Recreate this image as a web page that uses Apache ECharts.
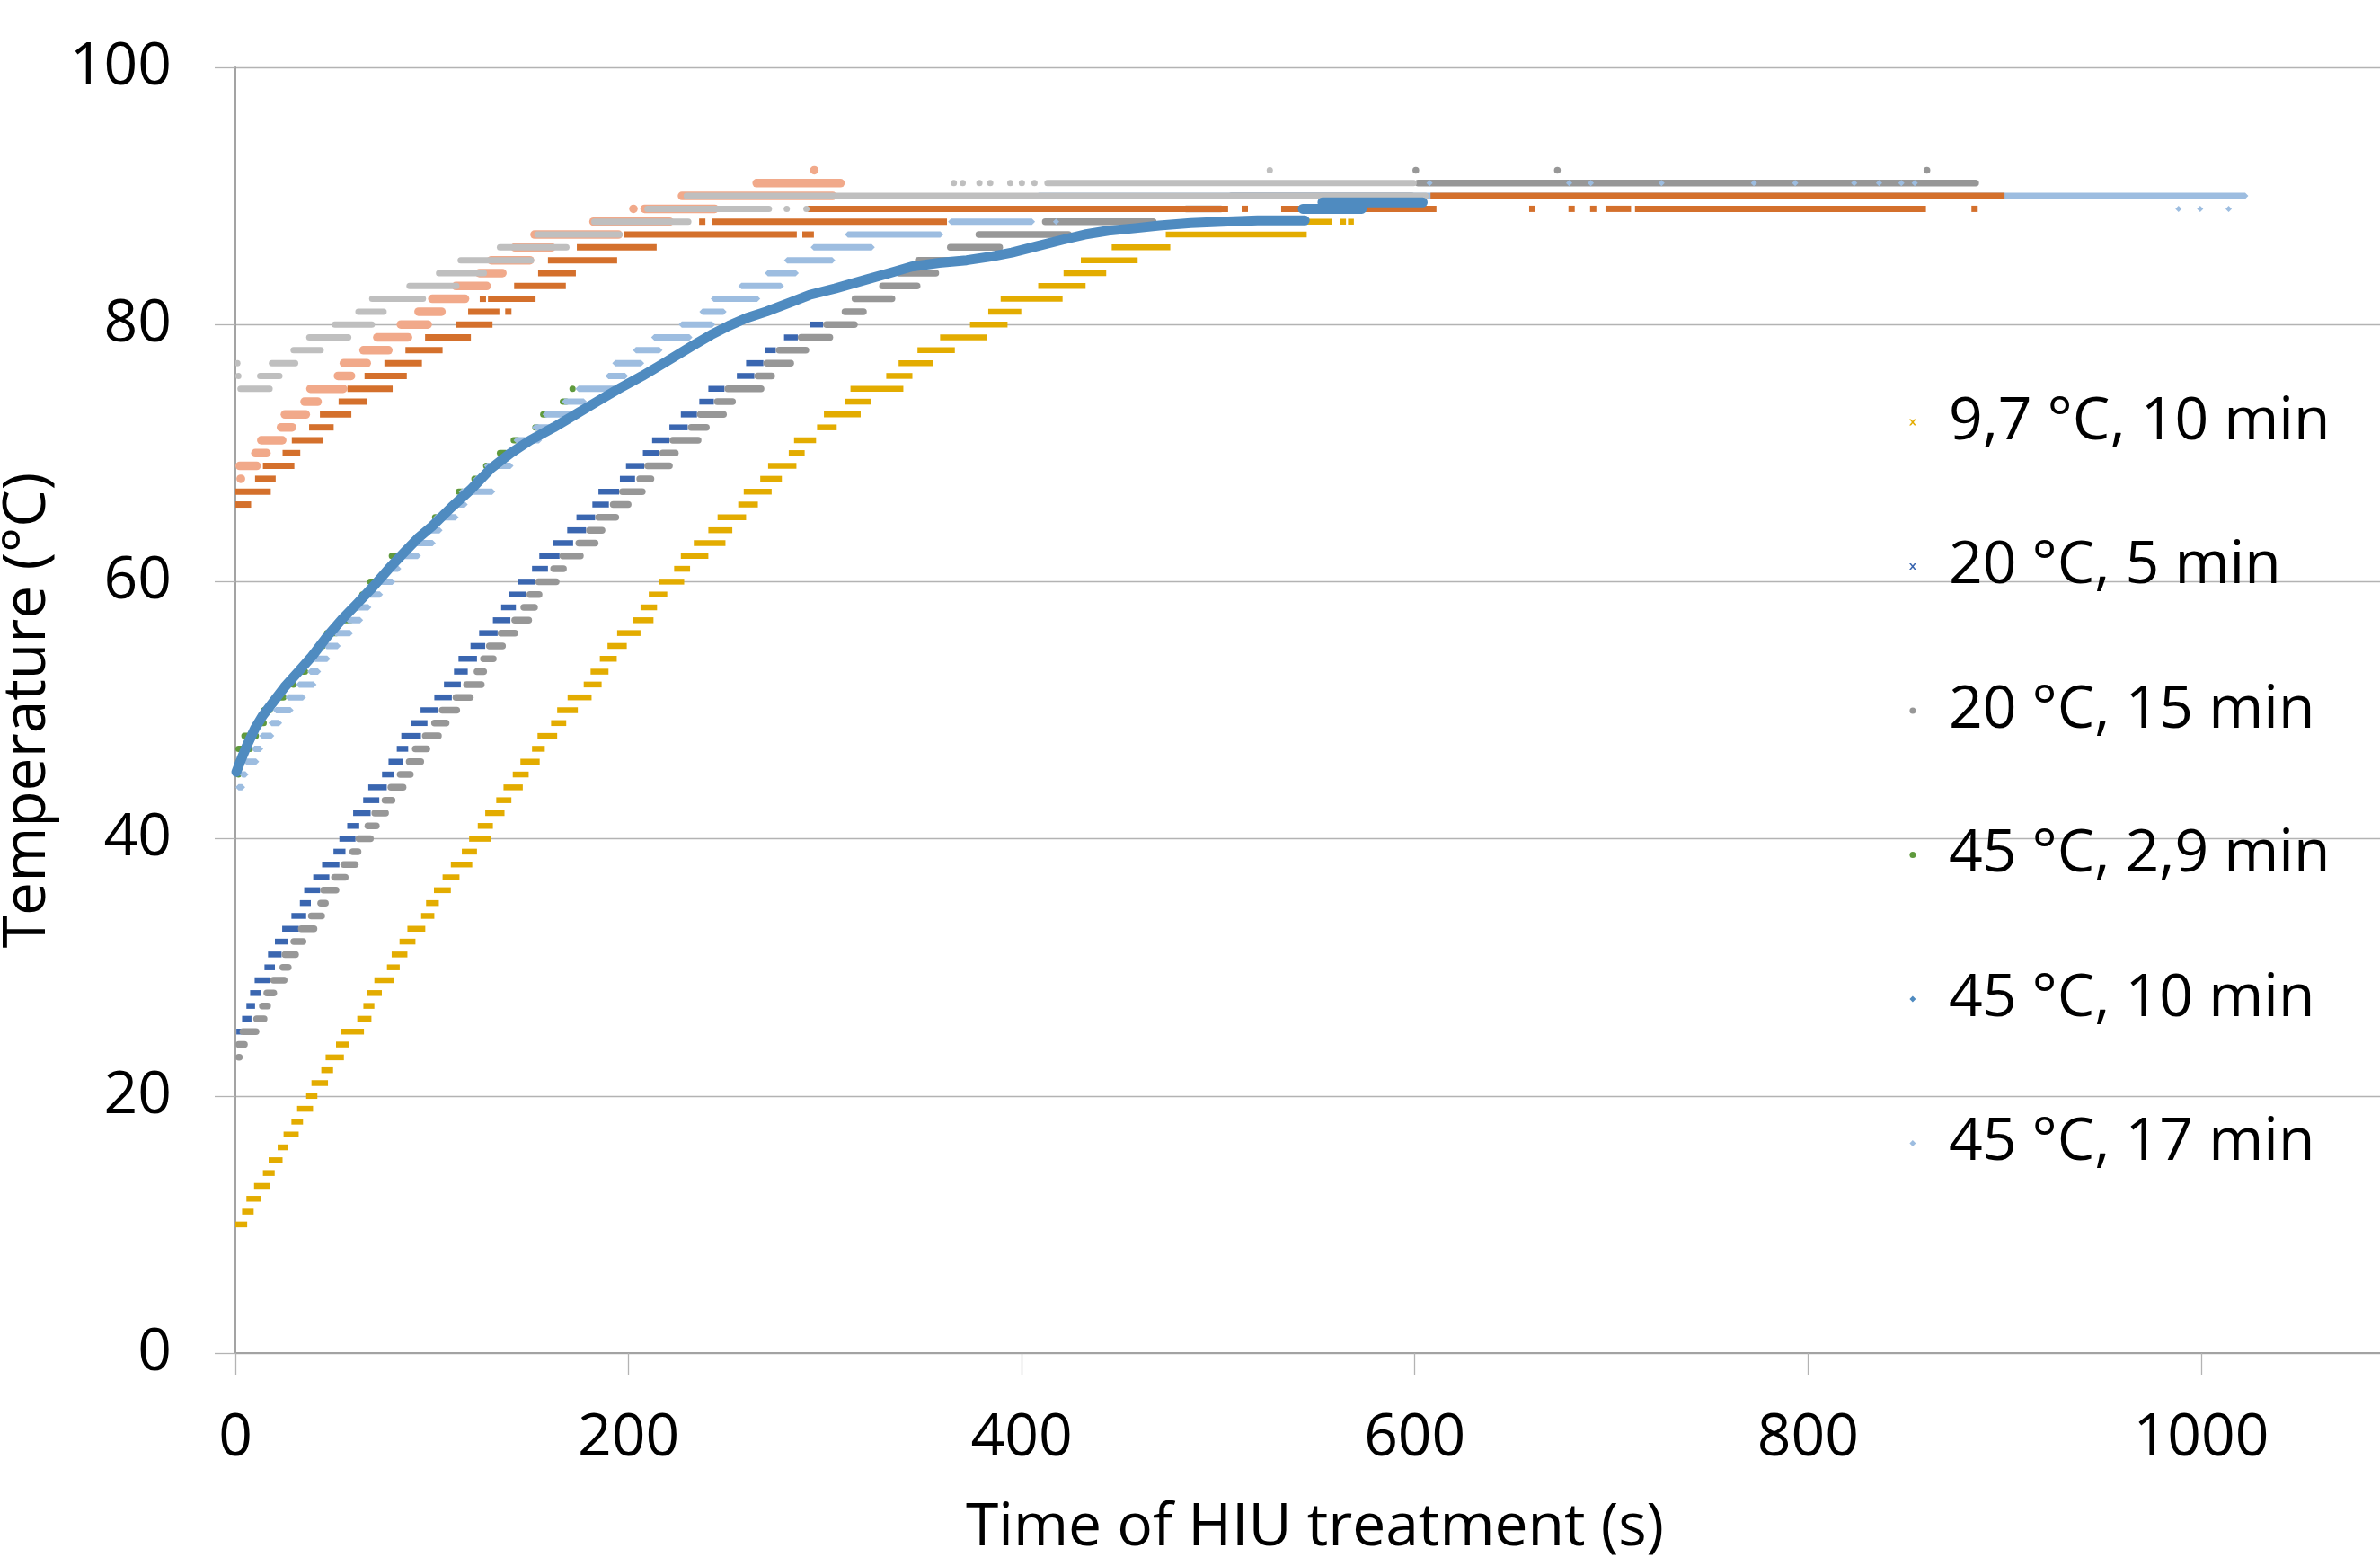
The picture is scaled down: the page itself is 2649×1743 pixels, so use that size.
<!DOCTYPE html>
<html><head><meta charset="utf-8">
<script src="https://cdn.jsdelivr.net/npm/echarts@6/dist/echarts.min.js"></script>
<style>html,body{margin:0;padding:0;background:#fff}#c{width:2649px;height:1743px}</style>
</head><body><div id="c"></div>
<script>
// ---------- axis ticks ----------
const xTicks = [0, 200, 400, 600, 800, 1000];
const yTicks = [0, 20, 40, 60, 80, 100];
const legendNames = ['9,7 °C, 10 min', '20 °C, 5 min', '20 °C, 15 min', '45 °C, 2,9 min', '45 °C, 10 min', '45 °C, 17 min'];

// ---------- streak data: [temperature °C, first time s, last time s] ----------
const s97c10 = [[10,0,6],[11,3.4,9.3],[12,5.6,12.8],[13,9.5,17.7],[14,14,20],[15,16.9,24],[16,21.5,26.5],[17,24.5,32.2],[18,28.5,34.4],[19,31.4,39.5],[20,36,41.7],[21,38.7,47.1],[22,43.7,49.7],[23,45.9,55.2],[24,51.2,57.7],[25,53.9,65.4],[26,62,69.2],[27,65.1,70.7],[28,67.1,74.5],[29,70.7,80.7],[30,77.1,83.6],[31,79.5,87.5],[32,83.5,91.6],[33,87.5,96.6],[34,94.5,101.2],[35,97,103.5],[36,101,109.6],[37,105.4,114],[38,109.6,120.5],[39,115.2,122.9],[40,118.9,129.9],[41,123.3,131],[42,127.1,136.9],[43,132.7,140.4],[44,136.4,146.2],[45,141.1,149.2],[46,145,154.8],[47,150.9,157.4],[48,153.7,163.7],[49,160.6,168.3],[50,163.7,174.2],[51,169,181.2],[52,177.2,186.3],[53,180.7,189.8],[54,185.4,194],[55,189.3,199.1],[56,194.2,206.1],[57,202.2,212.7],[58,206.1,214.5],[59,210.3,219.7],[60,215.7,228.3],[61,223.2,231.3],[62,226.6,240.6],[63,233.2,249.3],[64,240.6,252.8],[65,245.3,259.8],[66,255.8,265.8],[67,258.6,272.8],[68,267,278],[69,271,285.4],[70,281.5,289.6],[71,284.2,295.4],[72,295.9,305.9],[73,299.4,318.1],[74,310.1,323.4],[75,312.9,339.8],[76,331.1,344.4],[77,337.4,354.9],[78,347,366],[79,358.5,382.3],[80,373.7,392.8],[81,383,399.8],[82,389.3,420.8],[83,408.4,432.5],[84,421.3,443],[85,430.1,459],[86,445.8,475.6],[87,473.3,545],[88,545,558],[88,563,564],[88,567,568]];
const s20c5 = [[25,1,3],[26,3.4,8.2],[27,5.6,10],[28,7.5,12.8],[29,9.8,17.7],[30,14.8,20.1],[31,16.6,23.5],[32,20.1,26.8],[33,23.8,32.3],[34,28.5,36],[35,32.8,38.4],[36,35,43.1],[37,39.6,47.8],[38,44.1,52.9],[39,49.9,56],[40,52.9,61.1],[41,56.9,63],[42,59.9,68.8],[43,65,73.2],[44,67.6,77],[45,74.6,80.9],[46,77.9,85.1],[47,82.1,87.9],[48,84.4,94.4],[49,89.5,97.7],[50,94.2,103],[51,101.2,110.1],[52,106.1,114.7],[53,111.2,118.2],[54,113.5,122.9],[55,119.6,127.1],[56,124,133.4],[57,131,139.9],[58,135.2,142.7],[59,139.2,148.1],[60,143.9,152.5],[61,150.9,159],[62,154.6,164.9],[63,161.8,171.8],[64,168.8,178.4],[65,173.5,183],[66,181.6,190],[67,184.7,195.2],[68,195.6,203.3],[69,198.7,208],[70,207.3,215.7],[71,212,220.8],[72,220.8,230.1],[73,226.6,234.8],[74,236,243.4],[75,240.6,248.8],[76,255.1,264],[77,259.8,268.6],[78,269.3,274.9],[79,279.1,286.1],[80,292.4,299]];
const s20c15 = [[23,0,3.7],[24,0,6.3],[25,2.1,12.2],[26,9.1,16.3],[27,12,18.1],[28,14.3,21.2],[29,17.7,26.5],[30,22.4,28.6],[31,23.5,32.3],[32,28,36.1],[33,31.8,41.7],[34,36.9,45.6],[35,41.7,47.5],[36,43.1,52.9],[37,48.7,57.6],[38,53.4,62.7],[39,58,64.1],[40,61.1,70.4],[41,65.7,73.4],[42,69.2,78.1],[43,74.4,81.4],[44,77.4,87],[45,82.1,90.7],[46,86.7,96],[47,89.8,99.1],[48,94.9,105],[49,99.6,108.9],[50,103.5,114.3],[51,110.5,121.2],[52,115.9,126.8],[53,121.2,128],[54,124.5,132.9],[55,127.5,137.6],[56,133.4,143.9],[57,140.4,150.9],[58,145,153.9],[59,148.1,156.2],[60,152.5,164.9],[61,160.2,168.6],[62,164.9,177.2],[63,173,184.7],[64,178.4,188.2],[65,183,195.2],[66,190.5,201.5],[67,195.2,208.7],[68,204,213.1],[69,208,222.5],[70,215.7,225.5],[71,220.8,237.1],[72,230.1,241.3],[73,234.8,250],[74,243.4,254.6],[75,248.8,269.1],[76,264,274.5],[77,268.6,284.2],[78,274.9,291.9],[79,286.1,304.1],[80,299,316.6],[81,308.4,321.2],[82,313.5,335.7],[83,327.5,348.5],[84,336,358],[85,345.7,370.7],[86,362,390.5],[87,376.5,425.5],[88,410.3,468.6],[89,482,503],[90,505,600],[91,600,887],[92,600,601],[92,672,673],[92,860,861]];
const s45c29 = [[45,0,3],[46,0,4],[47,0,9],[48,3,12],[49,11,16],[50,13,19],[51,20,26],[52,28,31],[53,33,37],[54,36,40],[55,42,46],[56,45,53],[57,54,60],[58,59,63],[59,63,67],[60,67,74],[61,76,80],[62,78,86],[63,88,94],[64,96,100],[65,100,106],[66,109,113],[67,112,117],[68,120,124],[69,126,130],[70,133,139],[71,140,145],[72,151,155],[73,155,159],[74,165,170],[75,170,173]];
const s45c17 = [[44,0,5],[45,2,6.7],[46,4,12.1],[47,8.1,14.2],[48,12.1,19.8],[49,16.8,23.8],[50,19.1,29.6],[51,25.4,35.9],[52,30.8,41.3],[53,36.6,43.6],[54,38.9,48.3],[55,44.8,53.6],[56,49.4,59.9],[57,56,65],[58,61.1,69.2],[59,64.1,75.1],[60,69.2,81.4],[61,77.4,84.4],[62,80.9,94.4],[63,90.2,101.9],[64,96.1,105.4],[65,100.7,113.6],[66,108.9,118.2],[67,113.6,132.2],[68,121,126.4],[69,126.4,141.5],[70,136.9,143.9],[71,141.5,156],[72,150.9,162.5],[73,156.2,171.8],[74,166,178.8],[75,173,194],[76,188.2,199.8],[77,191.7,208],[78,202.2,217.3],[79,211.5,232.5],[80,225.5,244.1],[81,236,249.9],[82,241.8,267],[83,255.8,279.1],[84,269.3,286.6],[85,279.1,305.2],[86,292.6,325.3],[87,310,360.2],[88,362.5,406.8],[88,417,418],[90,407,1024],[89,988,989],[89,999,1000],[89,1013.5,1014.5],[91,607,608],[91,678,679],[91,689,690],[91,725,726],[91,772,773],[91,793,794],[91,823,824],[91,834.6,837.7],[91,847,848],[91,853.8,854.8]];
const sSalmon = [[68,0.5,5],[69,0,13],[70,8,18],[71,11,26],[72,21,31],[73,23,38],[74,33,44],[75,36,57],[76,50,61],[77,53,69],[78,63,80],[79,70,90],[80,82,100],[81,91,107],[82,98,119],[83,110,130],[84,122,138],[85,128,152],[86,140,163],[87,150,197],[88,180,223],[89,201,204],[89,206,246],[90,225,306],[91,263,310],[92,293,296]];
const sOrange = [[66,0,8],[67,0,18],[68,10,20.5],[69,14,30],[70,24,33],[71,28.7,44.8],[72,37.5,50],[73,43,59],[74,52.5,67],[75,57,80],[76,65.7,87.2],[77,75.8,94.9],[78,86.5,105.4],[79,96.5,119.8],[80,112,130.8],[81,118.4,134.3],[81,137.3,140.4],[82,124.3,127.5],[82,128.5,152.7],[83,141.8,168.1],[84,154,173.2],[85,159,194.2],[86,173.7,214.3],[87,197.5,285.6],[87,288.4,294.3],[88,236,239],[88,242.3,362],[89,291,505],[89,512,515],[89,532,611],[89,659,660.5],[89,679,680.5],[89,690,691.5],[89,697,710],[89,712,860],[89,884,885.5],[90,608,900]];
const sLightGray = [[75,1,19],[76,0.8,2.2],[76,11,24],[77,0.3,1.7],[77,17,32],[78,28,45],[79,36,59],[80,49,71],[81,61,77],[82,68,97],[83,87,114],[84,102,128],[85,113,152],[86,133,170],[87,152,197],[88,181,232],[89,208,273],[89,280,281],[89,290,291],[90,228,607],[91,365,366],[91,369.5,370.5],[91,378,379],[91,383.5,384.5],[91,393.7,394.7],[91,399.6,400.6],[91,406,407],[91,411.5,601],[92,525.7,526.7]];
// continuous logger trace (time s, temperature °C); '-' marks a break
const s45c10 = [[0.5,45.2],[3,46.2],[6,47.3],[10,48.6],[14,49.6],[20,50.8],[25,51.8],[32,53],[39,54.2],[47,55.8],[55,57.2],[62,58.3],[70,59.6],[78,61],[86,62.3],[93,63.4],[100,64.3],[110,65.8],[120,67.2],[130,68.8],[140,70],[150,71],[162,72],[174,73.1],[185,74.1],[195,75],[207,76],[218,77],[232,78.3],[242,79.2],[251,79.9],[260,80.5],[270,81],[282,81.7],[292,82.3],[305,82.8],[321,83.5],[335,84.1],[344,84.5],[358,84.8],[372,85],[385,85.3],[395,85.6],[408,86.1],[421,86.6],[432,87],[444,87.3],[458,87.5],[470,87.7],[486,87.9],[502,88],[520,88.1],[544,88.1],[544,'-'],[543,89],[573,89],[573,'-'],[553,89.5],[604,89.5]];

// ---------- styles ----------
const FONT = 'Open Sans';
const iconX = 'path://M0,0L2.5,0L5,3L7.5,0L10,0L6.3,4.5L10,9L7.5,9L5,6L2.5,9L0,9L3.7,4.5Z';
const iconDiamond = 'path://M5,0L10,5L5,10L0,5Z';

function streakRender(h, kind) {
  return function (params, api) {
    const a = api.coord([api.value(0), api.value(2)]);
    const b = api.coord([api.value(1), api.value(2)]);
    let x = a[0], w = b[0] - a[0];
    if (w < h) { x = (a[0] + b[0]) / 2 - h / 2; w = h; }
    const y = a[1] - h / 2;
    const style = api.style();
    if (kind === 'diamond') {
      const m = h / 2;
      return { type: 'polygon', shape: { points: [[x, a[1]], [x + m, y], [x + w - m, y], [x + w, a[1]], [x + w - m, y + h], [x + m, y + h]] }, style: style };
    }
    return { type: 'rect', shape: { x: x, y: y, width: w, height: h, r: kind === 'round' ? h / 2 : 0 }, style: style };
  };
}
function streakSeries(name, rows, color, h, kind) {
  return {
    type: 'custom', name: name, coordinateSystem: 'cartesian2d', clip: true,
    itemStyle: { color: color },
    renderItem: streakRender(h, kind),
    encode: { x: [0, 1], y: 2 },
    data: rows.map(r => [r[1], r[2], r[0]])
  };
}

const chart = echarts.init(document.getElementById('c'), null, { renderer: 'canvas' });
chart.setOption({
  animation: false,
  backgroundColor: '#ffffff',
  grid: { left: 262, right: 0, top: 75, bottom: 237, containLabel: false, outerBoundsMode: 'none' },
  xAxis: {
    type: 'value', min: 0, max: 1091,
    name: 'Time of HIU treatment (s)', nameLocation: 'middle', nameGap: 162,
    nameTextStyle: { fontFamily: FONT, fontSize: 66, color: '#000', padding: [0, 0, 0, 16] },
    axisLine: { show: true, lineStyle: { color: '#a3a3a3', width: 2 } },
    axisTick: { show: true, length: 24, customValues: xTicks, lineStyle: { color: '#b3b3b3', width: 1.3 } },
    axisLabel: { customValues: xTicks, margin: 62, fontFamily: FONT, fontSize: 66, color: '#000', formatter: v => String(v) },
    splitLine: { show: false }
  },
  yAxis: {
    type: 'value', min: 0, max: 100, interval: 20,
    name: 'Temperature (°C)', nameLocation: 'middle', nameGap: 198,
    nameTextStyle: { fontFamily: FONT, fontSize: 66, color: '#000' },
    axisLine: { show: true, lineStyle: { color: '#a3a3a3', width: 2 } },
    axisTick: { show: true, length: 23, lineStyle: { color: '#b3b3b3', width: 1.3 } },
    axisLabel: { margin: 71, fontFamily: FONT, fontSize: 66, color: '#000', formatter: v => String(v) },
    splitLine: { show: true, lineStyle: { color: '#b3b3b3', width: 1.3 } }
  },
  legend: {
    orient: 'vertical', left: 2125, top: 430, padding: 0, itemGap: 80.5,
    itemWidth: 70, itemHeight: 7, selectedMode: false,
    textStyle: { fontFamily: FONT, fontSize: 66, color: '#000', lineHeight: 80 },
    data: [
      { name: legendNames[0], icon: iconX },
      { name: legendNames[1], icon: iconX },
      { name: legendNames[2], icon: 'circle' },
      { name: legendNames[3], icon: 'circle' },
      { name: legendNames[4], icon: iconDiamond },
      { name: legendNames[5], icon: iconDiamond }
    ]
  },
  series: [
    streakSeries(legendNames[0], s97c10, '#E3AC00', 6.5, 'x'),
    streakSeries(legendNames[1], s20c5, '#3A66B0', 6.5, 'x'),
    streakSeries(legendNames[2], s20c15, '#979797', 7.5, 'round'),
    streakSeries(legendNames[3], s45c29, '#5F9A3D', 7, 'round'),
    {
      type: 'line', name: legendNames[4], data: s45c10, showSymbol: false, symbol: 'none',
      connectNulls: false, clip: true,
      itemStyle: { color: '#4F8BC0' },
      lineStyle: { color: '#4F8BC0', width: 11, join: 'round', cap: 'round' }
    },
    streakSeries(legendNames[5], s45c17, '#9DBDE0', 7, 'diamond'),
    streakSeries('75 °C A', sSalmon, '#F1A98A', 9.5, 'round'),
    streakSeries('75 °C B', sOrange, '#D4702C', 7, 'square'),
    streakSeries('75 °C C', sLightGray, '#BFBFBF', 7, 'round')
  ]
});
</script>
</body></html>
